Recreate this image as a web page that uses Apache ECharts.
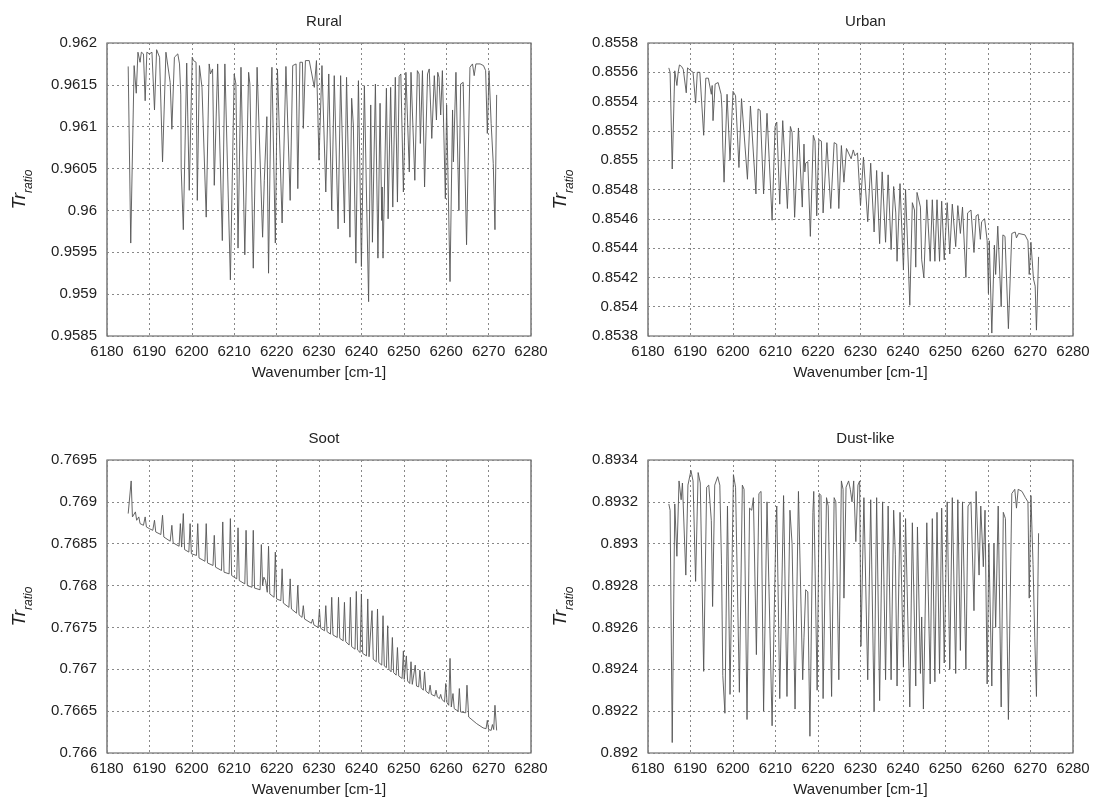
<!DOCTYPE html>
<html>
<head>
<meta charset="utf-8">
<script src="https://cdn.jsdelivr.net/npm/echarts@6/dist/echarts.min.js"></script>
<style>
html,body{margin:0;padding:0;background:#fff;}
#chart{width:1095px;height:801px;}
</style>
</head>
<body>
<div id="chart"></div>
<script>
const panelTitles = ['Rural', 'Urban', 'Soot', 'Dust-like'];
const xAxisName = 'Wavenumber [cm-1]';
const xRange = [6180, 6280, 10];
const yRanges = [
  [0.9585, 0.962, 0.0005],
  [0.8538, 0.8558, 0.0002],
  [0.766, 0.7695, 0.0005],
  [0.892, 0.8934, 0.0002]
];

const ruralData = [
[6185.0,0.96172],[6185.6,0.95961],[6186.4,0.96173],[6186.9,0.96140],[6187.3,0.96189],[6187.8,0.96177],[6188.1,0.96189],[6188.6,0.96187],[6189.0,0.96131],[6189.4,0.96189],[6190.0,0.96187],[6190.6,0.96189],[6191.2,0.96120],[6191.7,0.96192],[6192.4,0.96183],[6193.1,0.96058],[6193.9,0.96189],[6194.9,0.96153],[6195.3,0.96097],[6195.9,0.96183],[6196.7,0.96187],[6197.1,0.96175],[6197.4,0.96138],[6197.5,0.96050],[6198.0,0.95977],[6198.8,0.96176],[6199.4,0.96024],[6200.1,0.96183],[6200.4,0.96179],[6201.0,0.96177],[6201.3,0.96012],[6201.8,0.96173],[6202.4,0.96147],[6203.4,0.95992],[6204.1,0.96175],[6204.4,0.96163],[6204.7,0.96161],[6204.9,0.96169],[6205.3,0.96030],[6206.1,0.96175],[6207.2,0.95964],[6207.8,0.96175],[6209.1,0.95917],[6210.0,0.96163],[6210.4,0.96151],[6210.9,0.95955],[6211.6,0.96171],[6212.5,0.95947],[6213.4,0.96165],[6213.7,0.96151],[6214.5,0.95931],[6215.4,0.96171],[6216.7,0.95968],[6217.1,0.96036],[6217.7,0.96112],[6218.1,0.95925],[6218.7,0.96144],[6218.9,0.96171],[6219.7,0.95961],[6220.2,0.96169],[6220.6,0.96167],[6221.3,0.95985],[6222.2,0.96172],[6223.2,0.96012],[6223.8,0.96173],[6224.6,0.96175],[6225.0,0.96026],[6225.5,0.96177],[6226.1,0.96177],[6226.3,0.96098],[6226.8,0.96179],[6227.7,0.96179],[6228.1,0.96180],[6228.9,0.96147],[6229.4,0.96179],[6230.0,0.96060],[6230.7,0.96173],[6231.6,0.96022],[6232.3,0.96163],[6233.0,0.96000],[6233.6,0.96161],[6234.5,0.95978],[6235.1,0.96161],[6236.0,0.95985],[6236.5,0.96159],[6237.3,0.95968],[6237.7,0.96134],[6238.1,0.96102],[6238.7,0.95937],[6239.3,0.96155],[6240.0,0.95933],[6240.7,0.96149],[6241.7,0.95891],[6242.2,0.96126],[6242.6,0.95962],[6243.3,0.96151],[6243.9,0.95943],[6244.4,0.96128],[6244.8,0.95988],[6244.9,0.96028],[6245.1,0.95943],[6245.9,0.96146],[6246.3,0.95990],[6246.9,0.96147],[6247.4,0.96004],[6248.0,0.96159],[6248.4,0.96160],[6248.5,0.96010],[6248.9,0.96160],[6249.3,0.96163],[6249.9,0.96022],[6250.5,0.96165],[6251.3,0.96046],[6251.7,0.96165],[6252.6,0.96036],[6253.2,0.96167],[6253.6,0.96163],[6253.9,0.96080],[6254.4,0.96167],[6254.9,0.96028],[6255.6,0.96163],[6256.0,0.96169],[6256.6,0.96086],[6257.2,0.96161],[6257.7,0.96108],[6258.0,0.96165],[6258.3,0.96159],[6258.7,0.96114],[6259.1,0.96167],[6259.8,0.96014],[6260.1,0.96126],[6260.9,0.95915],[6261.5,0.96120],[6261.7,0.96058],[6262.3,0.96165],[6263.0,0.96000],[6263.4,0.96151],[6264.0,0.96153],[6264.8,0.95959],[6265.6,0.96171],[6266.2,0.96175],[6266.6,0.96161],[6267.0,0.96175],[6268.0,0.96175],[6268.8,0.96173],[6269.3,0.96167],[6269.7,0.96092],[6270.1,0.96167],[6270.6,0.96104],[6271.1,0.96056],[6271.5,0.95977],[6271.9,0.96138]
];

const urbanData = [
[6184.9,0.85563],[6185.2,0.85560],[6185.7,0.85494],[6186.3,0.85561],[6186.8,0.85551],[6187.1,0.85560],[6187.4,0.85565],[6187.9,0.85564],[6188.3,0.85562],[6189.0,0.85546],[6189.3,0.85563],[6190.1,0.85561],[6190.6,0.85560],[6191.2,0.85539],[6191.6,0.85560],[6192.2,0.85560],[6193.1,0.85517],[6193.6,0.85556],[6194.2,0.85556],[6194.9,0.85545],[6195.1,0.85551],[6195.3,0.85527],[6195.8,0.85552],[6196.5,0.85553],[6197.2,0.85545],[6197.4,0.85535],[6197.6,0.85509],[6197.9,0.85485],[6198.6,0.85545],[6199.3,0.85500],[6200.0,0.85547],[6200.6,0.85544],[6201.4,0.85495],[6202.0,0.85542],[6202.4,0.85541],[6203.4,0.85487],[6204.1,0.85537],[6204.5,0.85536],[6205.4,0.85477],[6205.9,0.85535],[6206.4,0.85534],[6207.2,0.85477],[6208.0,0.85532],[6209.2,0.85459],[6209.9,0.85523],[6210.3,0.85526],[6211.0,0.85470],[6211.7,0.85527],[6212.8,0.85467],[6213.5,0.85523],[6213.9,0.85519],[6214.5,0.85461],[6215.4,0.85522],[6216.3,0.85468],[6216.7,0.85511],[6216.9,0.85492],[6217.1,0.85498],[6217.6,0.85499],[6218.2,0.85448],[6218.9,0.85517],[6219.3,0.85513],[6219.7,0.85462],[6220.2,0.85514],[6220.8,0.85513],[6221.2,0.85464],[6222.1,0.85512],[6223.0,0.85467],[6223.8,0.85512],[6224.4,0.85511],[6224.9,0.85467],[6225.5,0.85510],[6226.1,0.85485],[6226.7,0.85508],[6227.1,0.85507],[6227.8,0.85501],[6228.3,0.85507],[6228.7,0.85503],[6229.3,0.85505],[6230.0,0.85469],[6230.7,0.85502],[6231.7,0.85458],[6232.4,0.85498],[6233.2,0.85451],[6233.8,0.85493],[6234.5,0.85443],[6235.1,0.85492],[6235.9,0.85444],[6236.5,0.85490],[6237.2,0.85439],[6237.8,0.85482],[6238.3,0.85464],[6238.6,0.85431],[6239.3,0.85484],[6240.1,0.85425],[6240.6,0.85480],[6241.6,0.85401],[6242.2,0.85471],[6242.7,0.85466],[6243.0,0.85427],[6243.3,0.85478],[6244.1,0.85468],[6244.4,0.85432],[6244.9,0.85420],[6245.6,0.85473],[6246.4,0.85431],[6246.9,0.85473],[6247.5,0.85431],[6248.0,0.85473],[6248.6,0.85431],[6249.1,0.85472],[6249.7,0.85432],[6250.4,0.85471],[6251.0,0.85436],[6251.6,0.85470],[6252.4,0.85441],[6252.9,0.85469],[6253.5,0.85450],[6254.0,0.85468],[6254.8,0.85420],[6255.2,0.85464],[6256.0,0.85466],[6256.7,0.85437],[6257.2,0.85462],[6257.7,0.85463],[6258.2,0.85446],[6258.5,0.85458],[6259.2,0.85460],[6259.8,0.85445],[6260.1,0.85409],[6260.3,0.85445],[6260.9,0.85382],[6261.5,0.85442],[6261.8,0.85422],[6262.3,0.85455],[6262.6,0.85456],[6263.1,0.85400],[6263.5,0.85449],[6264.0,0.85448],[6264.8,0.85385],[6265.6,0.85450],[6266.4,0.85451],[6266.7,0.85447],[6267.2,0.85450],[6268.7,0.85449],[6269.4,0.85445],[6269.7,0.85422],[6270.1,0.85444],[6270.7,0.85419],[6271.1,0.85414],[6271.4,0.85384],[6271.9,0.85434]
];

const sootData = [
[6185.0,0.76886],[6185.4,0.76884],[6185.7,0.76925],[6186.0,0.76882],[6186.4,0.76880],[6186.7,0.76888],[6187.0,0.76878],[6187.5,0.76882],[6187.8,0.76874],[6188.6,0.76872],[6189.0,0.76882],[6189.3,0.76870],[6190.0,0.76868],[6190.8,0.76866],[6191.2,0.76878],[6191.5,0.76864],[6192.7,0.76861],[6193.1,0.76884],[6193.4,0.76858],[6194.9,0.76853],[6195.3,0.76872],[6195.6,0.76851],[6197.0,0.76847],[6197.3,0.76874],[6197.6,0.76846],[6197.8,0.76845],[6198.0,0.76886],[6198.3,0.76843],[6199.3,0.76840],[6199.6,0.76874],[6199.9,0.76838],[6201.1,0.76836],[6201.4,0.76874],[6201.7,0.76833],[6203.1,0.76829],[6203.4,0.76874],[6203.7,0.76827],[6205.0,0.76824],[6205.3,0.76860],[6205.6,0.76822],[6207.0,0.76818],[6207.3,0.76876],[6207.6,0.76816],[6208.8,0.76814],[6209.1,0.76880],[6209.4,0.76812],[6210.6,0.76808],[6210.9,0.76869],[6211.2,0.76806],[6212.5,0.76802],[6212.8,0.76866],[6213.1,0.76800],[6214.2,0.76798],[6214.5,0.76866],[6214.8,0.76797],[6216.1,0.76795],[6216.4,0.76849],[6216.7,0.76800],[6217.0,0.76810],[6217.4,0.76806],[6217.8,0.76792],[6218.1,0.76847],[6218.4,0.76790],[6219.4,0.76786],[6219.7,0.76840],[6220.0,0.76784],[6221.0,0.76782],[6221.3,0.76820],[6221.6,0.76779],[6222.9,0.76774],[6223.2,0.76808],[6223.5,0.76772],[6224.7,0.76767],[6225.0,0.76800],[6225.3,0.76765],[6226.0,0.76762],[6226.3,0.76776],[6226.6,0.76760],[6228.2,0.76755],[6228.5,0.76760],[6228.8,0.76753],[6229.8,0.76750],[6230.1,0.76772],[6230.4,0.76749],[6231.3,0.76746],[6231.6,0.76776],[6231.9,0.76745],[6232.7,0.76742],[6233.0,0.76786],[6233.3,0.76741],[6234.3,0.76738],[6234.6,0.76786],[6234.9,0.76737],[6235.7,0.76734],[6236.0,0.76780],[6236.3,0.76733],[6237.1,0.76729],[6237.4,0.76786],[6237.7,0.76727],[6238.5,0.76724],[6238.8,0.76793],[6239.1,0.76723],[6239.7,0.76720],[6240.0,0.76790],[6240.3,0.76719],[6241.2,0.76716],[6241.5,0.76784],[6241.8,0.76715],[6242.2,0.76714],[6242.5,0.76770],[6242.8,0.76712],[6243.5,0.76709],[6243.8,0.76772],[6244.1,0.76708],[6244.8,0.76705],[6245.1,0.76764],[6245.4,0.76704],[6245.9,0.76702],[6246.2,0.76752],[6246.5,0.76700],[6247.0,0.76697],[6247.3,0.76738],[6247.6,0.76696],[6248.2,0.76693],[6248.5,0.76726],[6248.8,0.76692],[6249.6,0.76689],[6249.9,0.76722],[6250.1,0.76688],[6250.4,0.76687],[6250.6,0.76716],[6250.9,0.76686],[6251.4,0.76683],[6251.7,0.76709],[6252.0,0.76682],[6252.4,0.76681],[6252.7,0.76705],[6253.0,0.76680],[6253.5,0.76679],[6253.8,0.76699],[6254.1,0.76678],[6254.6,0.76675],[6254.9,0.76697],[6255.2,0.76674],[6255.9,0.76671],[6256.2,0.76681],[6256.5,0.76670],[6257.3,0.76668],[6257.6,0.76675],[6257.9,0.76667],[6258.4,0.76665],[6258.7,0.76670],[6259.0,0.76664],[6259.6,0.76661],[6259.9,0.76683],[6260.2,0.76660],[6260.6,0.76657],[6260.9,0.76713],[6261.2,0.76655],[6261.4,0.76654],[6261.6,0.76671],[6261.9,0.76653],[6262.8,0.76650],[6263.1,0.76677],[6263.4,0.76649],[6264.6,0.76648],[6264.9,0.76681],[6265.3,0.76643],[6265.6,0.76641],[6267.2,0.76635],[6268.7,0.76630],[6269.4,0.76629],[6269.7,0.76639],[6270.0,0.76628],[6270.6,0.76627],[6270.9,0.76634],[6271.2,0.76628],[6271.5,0.76657],[6271.9,0.76627]
];

const dustData = [
[6184.9,0.89319],[6185.2,0.89316],[6185.7,0.89205],[6186.3,0.89319],[6186.8,0.89294],[6187.3,0.89330],[6187.8,0.89321],[6188.1,0.89329],[6188.9,0.89285],[6189.4,0.89328],[6190.1,0.89335],[6190.6,0.89330],[6191.2,0.89282],[6191.8,0.89334],[6192.3,0.89329],[6193.1,0.89239],[6193.8,0.89327],[6194.3,0.89328],[6194.9,0.89311],[6195.2,0.89270],[6195.7,0.89328],[6196.4,0.89332],[6196.9,0.89328],[6197.3,0.89290],[6197.6,0.89237],[6198.1,0.89219],[6198.7,0.89318],[6199.3,0.89228],[6200.1,0.89333],[6200.6,0.89327],[6201.5,0.89229],[6202.2,0.89328],[6202.6,0.89326],[6203.3,0.89216],[6203.9,0.89317],[6204.4,0.89316],[6204.8,0.89322],[6205.5,0.89247],[6206.1,0.89324],[6206.6,0.89325],[6207.2,0.89220],[6208.0,0.89320],[6209.2,0.89213],[6210.1,0.89309],[6210.3,0.89318],[6211.0,0.89226],[6211.9,0.89323],[6212.7,0.89227],[6213.4,0.89316],[6213.9,0.89300],[6214.6,0.89221],[6215.4,0.89325],[6216.4,0.89235],[6216.7,0.89255],[6217.1,0.89278],[6217.6,0.89277],[6218.1,0.89208],[6218.8,0.89315],[6219.0,0.89325],[6219.8,0.89230],[6220.3,0.89324],[6220.7,0.89323],[6221.2,0.89226],[6222.0,0.89322],[6222.4,0.89318],[6223.2,0.89227],[6223.8,0.89322],[6224.2,0.89320],[6224.9,0.89235],[6225.5,0.89330],[6225.9,0.89326],[6226.1,0.89274],[6226.6,0.89327],[6227.2,0.89330],[6227.6,0.89326],[6228.0,0.89320],[6228.4,0.89330],[6228.9,0.89301],[6229.4,0.89328],[6229.8,0.89330],[6230.1,0.89251],[6230.8,0.89322],[6231.7,0.89235],[6232.4,0.89321],[6233.2,0.89220],[6233.8,0.89322],[6234.5,0.89225],[6235.2,0.89320],[6235.9,0.89235],[6236.5,0.89318],[6237.2,0.89235],[6237.8,0.89316],[6238.2,0.89295],[6238.6,0.89232],[6239.3,0.89315],[6240.1,0.89241],[6240.6,0.89312],[6241.6,0.89222],[6242.2,0.89310],[6243.0,0.89232],[6243.4,0.89308],[6244.1,0.89238],[6244.4,0.89265],[6244.8,0.89221],[6245.6,0.89310],[6246.4,0.89233],[6246.9,0.89312],[6247.5,0.89234],[6248.0,0.89315],[6248.6,0.89238],[6249.1,0.89317],[6249.7,0.89243],[6250.4,0.89320],[6251.0,0.89240],[6251.6,0.89322],[6252.4,0.89238],[6252.9,0.89321],[6253.5,0.89249],[6254.0,0.89320],[6254.8,0.89240],[6255.3,0.89318],[6256.0,0.89320],[6256.7,0.89268],[6257.2,0.89325],[6257.9,0.89285],[6258.3,0.89318],[6258.9,0.89289],[6259.3,0.89316],[6259.8,0.89233],[6260.2,0.89300],[6260.9,0.89232],[6261.4,0.89300],[6261.8,0.89260],[6262.4,0.89318],[6263.1,0.89222],[6263.6,0.89315],[6264.1,0.89312],[6264.8,0.89216],[6265.6,0.89324],[6266.3,0.89326],[6266.7,0.89317],[6267.1,0.89326],[6268.0,0.89325],[6268.8,0.89322],[6269.4,0.89320],[6269.7,0.89274],[6270.1,0.89323],[6270.6,0.89290],[6271.0,0.89255],[6271.4,0.89227],[6271.9,0.89305]
];

const seriesData = [ruralData, urbanData, sootData, dustData];

const FONT = "'Liberation Sans', Arial, Helvetica, sans-serif";
const grids = [
  {left: 107, top: 43, width: 424, height: 293},
  {left: 648, top: 43, width: 425, height: 293},
  {left: 107, top: 460, width: 424, height: 293},
  {left: 648, top: 460, width: 425, height: 293}
];

const option = {
  animation: false,
  backgroundColor: '#fff',
  title: panelTitles.map((t, i) => ({
    text: t,
    left: grids[i].left + grids[i].width / 2,
    top: grids[i].top - 34,
    textAlign: 'center',
    textStyle: {fontFamily: FONT, fontSize: 15, fontWeight: 'normal', color: '#222'}
  })),
  grid: grids.map(g => Object.assign({show: true, borderColor: '#555', borderWidth: 1.2, backgroundColor: 'transparent'}, g)),
  xAxis: grids.map((g, i) => ({
    type: 'value', gridIndex: i,
    min: xRange[0], max: xRange[1], interval: xRange[2],
    name: xAxisName, nameLocation: 'middle', nameGap: 29,
    nameTextStyle: {fontFamily: FONT, fontSize: 15, color: '#222'},
    axisLine: {show: false},
    axisTick: {show: false},
    axisLabel: {fontFamily: FONT, fontSize: 15, color: '#222', margin: 8, formatter: v => String(v)},
    splitLine: {show: true, lineStyle: {color: '#888', type: [2, 3], width: 1}}
  })),
  yAxis: grids.map((g, i) => ({
    type: 'value', gridIndex: i,
    min: yRanges[i][0], max: yRanges[i][1], interval: yRanges[i][2],
    name: '{a|Tr}{b|ratio}', nameLocation: 'middle', nameGap: 72, nameRotate: 90,
    nameTextStyle: {
      fontFamily: FONT, color: '#222',
      rich: {
        a: {fontFamily: FONT, fontSize: 19, fontStyle: 'italic', color: '#222', verticalAlign: 'top', lineHeight: 22},
        b: {fontFamily: FONT, fontSize: 12, fontStyle: 'italic', color: '#222', verticalAlign: 'top', padding: [13, 0, 0, 0]}
      }
    },
    axisLine: {show: false},
    axisTick: {show: false},
    axisLabel: {fontFamily: FONT, fontSize: 15, color: '#222', margin: 10, formatter: v => String(+v.toFixed(5))},
    splitLine: {show: true, lineStyle: {color: '#888', type: [2, 3], width: 1}}
  })),
  series: seriesData.map((d, i) => ({
    type: 'line', xAxisIndex: i, yAxisIndex: i,
    data: d, showSymbol: false, symbol: 'none',
    lineStyle: {color: '#555', width: 0.9},
    silent: true, clip: true
  }))
};

const chart = echarts.init(document.getElementById('chart'), null, {renderer: 'canvas'});
chart.setOption(option);
</script>
</body>
</html>
